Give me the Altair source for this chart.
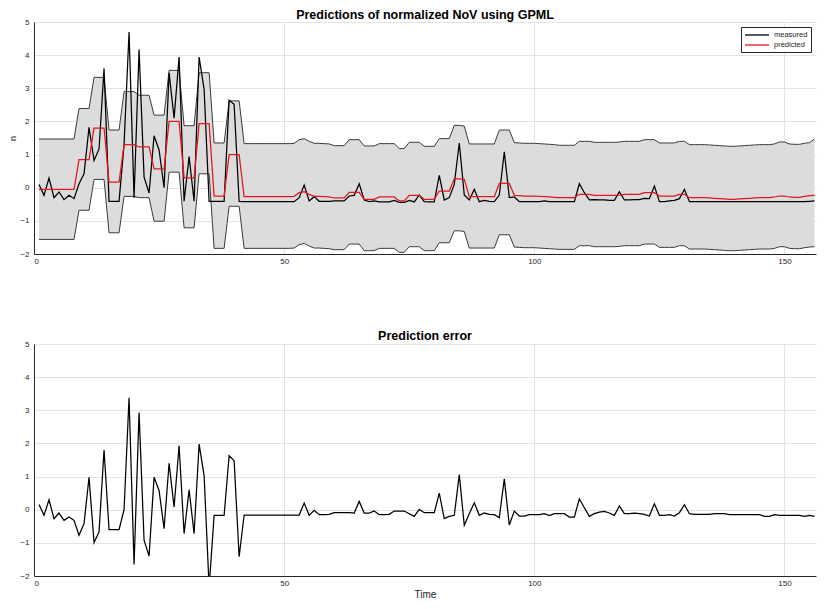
import altair as alt
import pandas as pd

t = list(range(1, 157))

measured = [
    0.10, -0.23, 0.29, -0.30, -0.13, -0.36, -0.23, -0.33, 0.12, 0.42,
    1.82, 0.82, 1.17, 3.60, -0.41, -0.41, -0.41, 1.30, 4.70, -0.31,
    4.17, 0.32, -0.16, 1.57, 1.14, 0.00, 3.47, 2.10, 3.94, -0.41,
    0.94, -0.41, 3.94, 2.97, -0.41, -0.41, -0.41, -0.41, 2.64, 2.52,
    -0.41, -0.42, -0.42, -0.42, -0.42, -0.42, -0.42, -0.42, -0.42, -0.42,
    -0.42, -0.42, -0.30, 0.08, -0.40, -0.27, -0.41, -0.41, -0.41, -0.40,
    -0.40, -0.40, -0.25, -0.23, 0.12, -0.37, -0.42, -0.40, -0.43, -0.43,
    -0.43, -0.38, -0.44, -0.44, -0.38, -0.43, -0.22, -0.42, -0.43, -0.43,
    0.37, -0.37, -0.30, 0.10, 1.35, -0.22, -0.37, -0.05, -0.42, -0.38,
    -0.41, -0.42, -0.22, 1.08, -0.30, -0.28, -0.42, -0.42, -0.42, -0.42,
    -0.42, -0.40, -0.42, -0.42, -0.42, -0.42, -0.42, -0.42, 0.12, -0.15,
    -0.37, -0.36, -0.37, -0.37, -0.38, -0.38, -0.12, -0.37, -0.37, -0.36,
    -0.36, -0.32, -0.33, 0.05, -0.42, -0.42, -0.40, -0.38, -0.33, -0.05,
    -0.42, -0.42, -0.42, -0.42, -0.42, -0.42, -0.42, -0.42, -0.42, -0.42,
    -0.42, -0.42, -0.42, -0.42, -0.42, -0.42, -0.42, -0.42, -0.42, -0.42,
    -0.42, -0.42, -0.42, -0.42, -0.41, -0.40,
]

predicted = [
    -0.05, -0.05, -0.05, -0.05, -0.05, -0.05, -0.05, -0.05, 0.85, 0.85,
    0.85, 1.80, 1.80, 1.80, 0.17, 0.17, 0.17, 1.30, 1.30, 1.30,
    1.23, 1.23, 1.23, 0.57, 0.57, 0.57, 2.00, 2.00, 2.00, 0.30,
    0.30, 0.30, 1.93, 1.93, 1.93, -0.25, -0.25, -0.25, 1.00, 1.00,
    1.00, -0.27, -0.27, -0.27, -0.27, -0.27, -0.27, -0.27, -0.27, -0.27,
    -0.27, -0.26, -0.15, -0.12, -0.20, -0.26, -0.26, -0.27, -0.28, -0.31,
    -0.31, -0.31, -0.14, -0.14, -0.14, -0.35, -0.35, -0.35, -0.28, -0.28,
    -0.28, -0.28, -0.40, -0.40, -0.23, -0.23, -0.23, -0.35, -0.35, -0.35,
    -0.10, -0.10, -0.10, 0.27, 0.27, 0.25, -0.27, -0.27, -0.27, -0.27,
    -0.27, -0.27, 0.13, 0.13, 0.13, -0.23, -0.24, -0.25, -0.25, -0.25,
    -0.26, -0.27, -0.28, -0.29, -0.30, -0.30, -0.30, -0.30, -0.20, -0.20,
    -0.20, -0.23, -0.23, -0.23, -0.23, -0.23, -0.22, -0.20, -0.20, -0.20,
    -0.20, -0.15, -0.15, -0.15, -0.25, -0.25, -0.25, -0.25, -0.20, -0.20,
    -0.30, -0.30, -0.30, -0.30, -0.31, -0.32, -0.33, -0.34, -0.35, -0.35,
    -0.34, -0.33, -0.32, -0.31, -0.30, -0.30, -0.30, -0.28, -0.25, -0.25,
    -0.28, -0.29, -0.29, -0.26, -0.24, -0.23,
]

upper = [
    1.47, 1.47, 1.47, 1.47, 1.47, 1.47, 1.47, 1.47, 2.39, 2.39,
    2.39, 3.33, 3.33, 3.33, 1.74, 1.74, 1.74, 2.90, 2.90, 2.90,
    2.79, 2.79, 2.79, 2.19, 2.19, 2.19, 3.54, 3.54, 3.54, 1.87,
    1.87, 1.87, 3.47, 3.47, 3.47, 1.35, 1.35, 1.35, 2.62, 2.62,
    2.62, 1.33, 1.33, 1.33, 1.33, 1.33, 1.33, 1.33, 1.33, 1.33,
    1.33, 1.34, 1.45, 1.48, 1.40, 1.34, 1.34, 1.33, 1.32, 1.27,
    1.27, 1.27, 1.45, 1.45, 1.45, 1.26, 1.26, 1.26, 1.33, 1.33,
    1.33, 1.33, 1.18, 1.18, 1.37, 1.37, 1.37, 1.25, 1.25, 1.25,
    1.48, 1.48, 1.48, 1.88, 1.88, 1.86, 1.32, 1.32, 1.32, 1.32,
    1.32, 1.32, 1.74, 1.74, 1.74, 1.36, 1.35, 1.34, 1.34, 1.34,
    1.33, 1.32, 1.31, 1.30, 1.28, 1.28, 1.28, 1.28, 1.40, 1.40,
    1.40, 1.37, 1.37, 1.37, 1.37, 1.37, 1.38, 1.40, 1.40, 1.40,
    1.40, 1.45, 1.45, 1.45, 1.35, 1.35, 1.35, 1.35, 1.40, 1.40,
    1.30, 1.30, 1.30, 1.30, 1.29, 1.28, 1.27, 1.26, 1.25, 1.25,
    1.26, 1.27, 1.28, 1.29, 1.30, 1.30, 1.30, 1.32, 1.38, 1.38,
    1.32, 1.31, 1.31, 1.34, 1.36, 1.47,
]

lower = [
    -1.56, -1.56, -1.56, -1.56, -1.56, -1.56, -1.56, -1.56, -0.68, -0.68,
    -0.68, 0.25, 0.25, 0.25, -1.36, -1.36, -1.36, -0.26, -0.26, -0.26,
    -0.30, -0.30, -0.30, -1.01, -1.01, -1.01, 0.47, 0.47, 0.47, -1.21,
    -1.21, -1.21, 0.42, 0.42, 0.42, -1.83, -1.83, -1.83, -0.56, -0.56,
    -0.56, -1.83, -1.83, -1.83, -1.83, -1.83, -1.83, -1.83, -1.83, -1.83,
    -1.83, -1.82, -1.72, -1.68, -1.76, -1.82, -1.82, -1.83, -1.84, -1.87,
    -1.87, -1.87, -1.70, -1.70, -1.70, -1.90, -1.90, -1.90, -1.83, -1.83,
    -1.83, -1.83, -1.95, -1.95, -1.78, -1.78, -1.78, -1.90, -1.90, -1.90,
    -1.66, -1.66, -1.66, -1.30, -1.30, -1.32, -1.82, -1.82, -1.82, -1.82,
    -1.82, -1.82, -1.42, -1.42, -1.42, -1.79, -1.80, -1.81, -1.81, -1.81,
    -1.82, -1.83, -1.84, -1.85, -1.86, -1.86, -1.86, -1.86, -1.75, -1.75,
    -1.75, -1.78, -1.78, -1.78, -1.78, -1.78, -1.77, -1.75, -1.75, -1.75,
    -1.75, -1.70, -1.70, -1.70, -1.80, -1.80, -1.80, -1.80, -1.75, -1.75,
    -1.85, -1.85, -1.85, -1.85, -1.86, -1.87, -1.88, -1.89, -1.90, -1.90,
    -1.89, -1.88, -1.87, -1.86, -1.85, -1.85, -1.85, -1.83, -1.78, -1.78,
    -1.83, -1.84, -1.84, -1.81, -1.79, -1.78,
]

error = [
    0.16, -0.17, 0.30, -0.27, -0.10, -0.32, -0.22, -0.32, -0.77, -0.42,
    0.98, -0.99, -0.67, 1.80, -0.60, -0.60, -0.60, 0.00, 3.38, -1.65,
    2.93, -0.92, -1.40, 0.98, 0.58, -0.57, 1.40, 0.08, 1.93, -0.72,
    0.60, -0.72, 1.98, 1.03, -2.34, -0.17, -0.17, -0.17, 1.63, 1.48,
    -1.42, -0.16, -0.16, -0.16, -0.16, -0.16, -0.16, -0.16, -0.16, -0.16,
    -0.16, -0.16, -0.16, 0.20, -0.17, -0.02, -0.15, -0.15, -0.14, -0.09,
    -0.09, -0.09, -0.09, -0.10, 0.25, -0.10, -0.10, -0.04, -0.15, -0.15,
    -0.14, -0.04, -0.04, -0.04, -0.12, -0.20, 0.01, -0.09, -0.09, -0.09,
    0.50, -0.27, -0.20, -0.17, 1.06, -0.47, -0.12, 0.21, -0.17, -0.10,
    -0.14, -0.15, -0.24, 0.93, -0.46, -0.04, -0.19, -0.19, -0.15, -0.15,
    -0.15, -0.12, -0.18, -0.12, -0.12, -0.12, -0.22, -0.22, 0.33, 0.06,
    -0.20, -0.12, -0.07, -0.05, -0.10, -0.17, 0.11, -0.12, -0.12, -0.10,
    -0.12, -0.14, -0.19, 0.18, -0.17, -0.17, -0.15, -0.19, -0.09, 0.15,
    -0.12, -0.14, -0.14, -0.14, -0.14, -0.12, -0.12, -0.12, -0.15, -0.15,
    -0.15, -0.15, -0.15, -0.15, -0.15, -0.20, -0.20, -0.15, -0.17, -0.17,
    -0.17, -0.17, -0.17, -0.20, -0.17, -0.20,
]

x_ticks = [0, 50, 100, 150]
y_ticks = [-2, -1, 0, 1, 2, 3, 4, 5]
series_names = ["measured", "predicted"]
series_colors = ["#000000", "#e3161c"]

df = pd.DataFrame({
    "t": t, "measured": measured, "predicted": predicted,
    "upper": upper, "lower": lower, "error": error,
})

FONT = "Liberation Sans"
W, H = 782, 232
xscale = alt.Scale(domain=[0, 156.3], nice=False, zero=False)
yscale = alt.Scale(domain=[-2, 5], nice=False, zero=False)

common_axis = dict(grid=True, ticks=False, tickSize=0, labelFontSize=8,
                   labelColor="#262626", domainColor="#262626",
                   gridColor="#e3e3e3", labelFont=FONT)


def xaxis(title=None):
    if title:
        return alt.Axis(values=x_ticks, labelPadding=3, title=title,
                        titleFontSize=10, titleFontWeight="normal",
                        titleColor="#262626", titlePadding=2, titleFont=FONT,
                        **common_axis)
    return alt.Axis(values=x_ticks, labelPadding=3, title=None, **common_axis)


def yaxis(title=None):
    if title:
        return alt.Axis(values=y_ticks, labelPadding=5, title=title,
                        titleFontSize=9, titleFontWeight="normal",
                        titleColor="#262626", titlePadding=2, titleFont=FONT,
                        **common_axis)
    return alt.Axis(values=y_ticks, labelPadding=5, title=None, **common_axis)


X = alt.X("t:Q", scale=xscale, axis=xaxis())

base = alt.Chart(df)

band = base.mark_area(color="#dcdcdc", opacity=1).encode(
    x=X,
    y=alt.Y("lower:Q", scale=yscale, axis=yaxis("n")),
    y2="upper:Q",
)
up_line = base.mark_line(color="#3a3a3a", strokeWidth=1).encode(
    x=X, y=alt.Y("upper:Q", scale=yscale, axis=yaxis("n")))
lo_line = base.mark_line(color="#3a3a3a", strokeWidth=1).encode(
    x=X, y=alt.Y("lower:Q", scale=yscale, axis=yaxis("n")))

lines = base.transform_fold(series_names, as_=["series", "value"]).mark_line(
    strokeWidth=1.25).encode(
    x=X,
    y=alt.Y("value:Q", scale=yscale, axis=yaxis("n")),
    color=alt.Color(
        "series:N",
        scale=alt.Scale(domain=series_names, range=series_colors),
        legend=alt.Legend(
            title=None, orient="top-right", offset=5,
            fillColor="white", strokeColor="#262626", padding=3,
            symbolType="M-3,0H3", symbolSize=64, symbolStrokeWidth=1.3,
            symbolOffset=8, labelOffset=12,
            labelFontSize=7.5, labelFont=FONT, labelColor="#262626",
            rowPadding=1,
        ),
    ),
)

top = alt.layer(band, up_line, lo_line, lines).properties(
    width=W, height=H,
    title=alt.TitleParams("Predictions of normalized NoV using GPML",
                          fontSize=12.5, fontWeight="bold", font=FONT,
                          color="black", offset=-3, anchor="middle",
                          frame="group"),
)

bottom = base.mark_line(color="#000000", strokeWidth=1.25, clip=True).encode(
    x=alt.X("t:Q", scale=xscale, axis=xaxis("Time")),
    y=alt.Y("error:Q", scale=yscale, axis=yaxis()),
).properties(
    width=W, height=H,
    title=alt.TitleParams("Prediction error", fontSize=12.5, fontWeight="bold",
                          font=FONT, color="black", offset=-2, anchor="middle",
                          frame="group"),
)

chart = alt.vconcat(top, bottom, spacing=64).properties(padding=0).configure_view(
    stroke=None
)

chart.save("out.html", embed_options={"renderer": "svg", "actions": False})
